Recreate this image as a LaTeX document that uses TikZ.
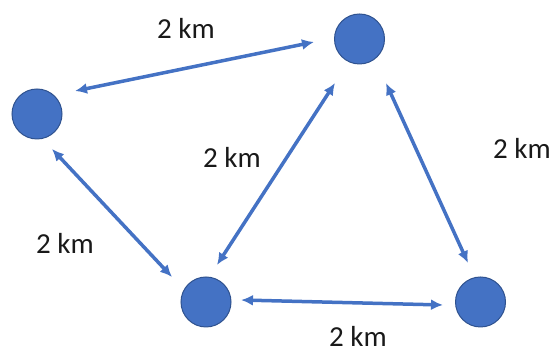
\documentclass[tikz,border=0pt]{standalone}
\usepackage{fontspec}
\setmainfont{Carlito}
\usetikzlibrary{arrows.meta,calc}
\definecolor{nodeblue}{HTML}{4472C4}
\definecolor{nodeedge}{HTML}{2F528F}
\definecolor{arrowblue}{HTML}{4472C4}
\begin{document}
\begin{tikzpicture}[x=1pt,y=1pt,
  site/.style={circle,fill=nodeblue,draw=nodeedge,line width=1pt,minimum size=50pt,inner sep=0pt,outer sep=0pt},
  link/.style={arrowblue,line width=3.5pt,{Latex[length=12pt,width=11pt]}-{Latex[length=12pt,width=11pt]}},
  dist/.style={font=\fontsize{29}{31}\selectfont,text=black!90,inner sep=0pt}]
\useasboundingbox (0,0) rectangle (555,352);
\node[site] (t) at (359.5,313) {};
\node[site] (l) at (37,238) {};
\node[site] (bl) at (206,50) {};
\node[site] (br) at (480.5,50) {};
\draw[link] ($(l)+(38,23)$) -- ($(t)+(-45.5,-3)$);
\draw[link] ($(l)+(15,-35)$) -- ($(bl)+(-34,25)$);
\draw[link] ($(bl)+(11,37)$) -- ($(t)+(-24.5,-44)$);
\draw[link] ($(t)+(26.5,-44)$) -- ($(br)+(-12.5,39)$);
\draw[link] ($(bl)+(35,2)$) -- ($(br)+(-37.5,-3)$);
\node[dist] (d1) at (186,324) {2 km};
\node[dist] (d2) at (232,195) {2 km};
\node[dist] (d3) at (522,204) {2 km};
\node[dist] (d4) at (65,109) {2 km};
\node[dist] (d5) at (358,16) {2 km};
\end{tikzpicture}
\end{document}
